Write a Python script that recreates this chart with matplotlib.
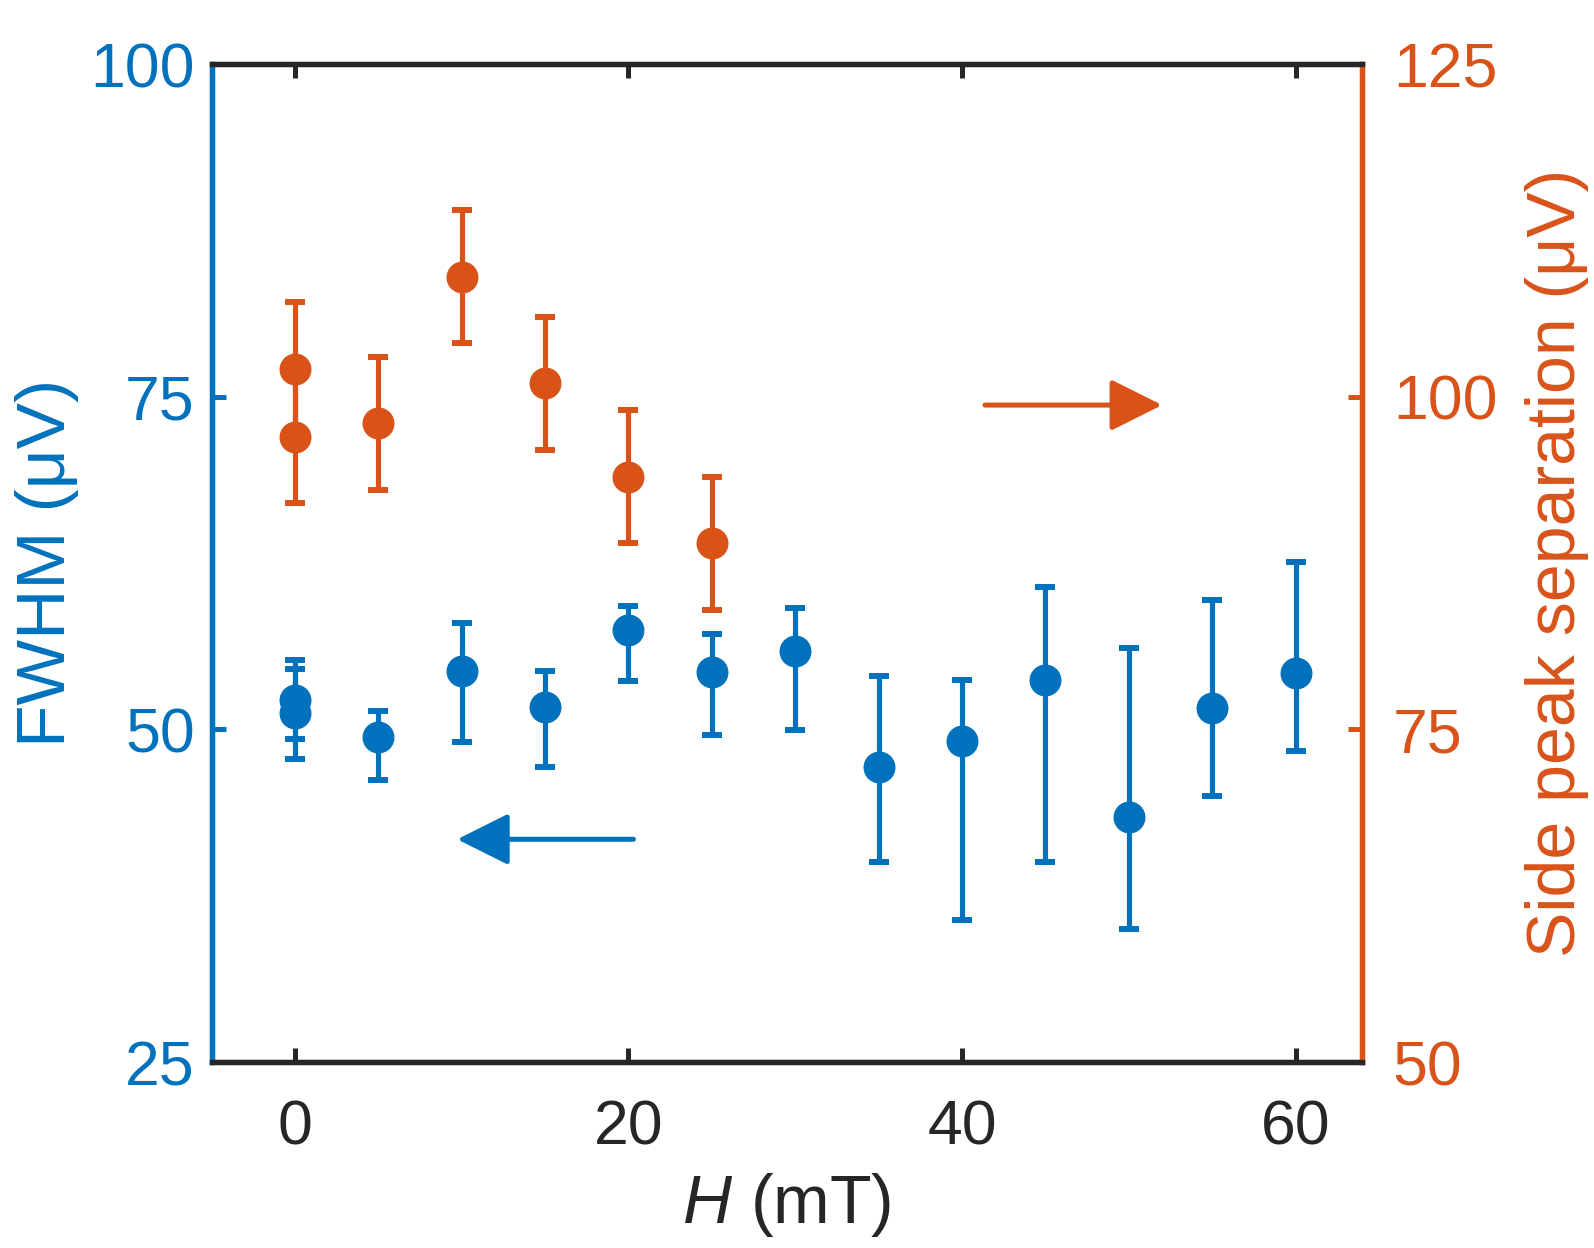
import matplotlib
matplotlib.use("Agg")
import matplotlib.pyplot as plt

plt.rcParams['font.family'] = ['Liberation Sans', 'DejaVu Sans']
plt.rcParams['mathtext.fontset'] = 'custom'
plt.rcParams['mathtext.it'] = 'Liberation Sans:italic'
plt.rcParams['mathtext.rm'] = 'Liberation Sans'

blue = '#0072BD'
orange = '#D95319'
dark = '#262626'

# FWHM (left axis)
fwhm_h = [0, 0, 5, 10, 15, 20, 25, 30, 35, 40, 45, 50, 55, 60]
fwhm = [52.2, 51.2, 49.4, 54.4, 51.7, 57.5, 54.3, 55.9, 47.2, 49.1, 53.7, 43.4, 51.6, 54.2]
fwhm_hi = [55.25, 54.5, 51.4, 58.0, 54.4, 59.3, 57.2, 59.1, 54.0, 53.7, 60.7, 56.1, 59.7, 62.6]
fwhm_lo = [49.25, 47.8, 46.2, 49.05, 47.2, 53.6, 49.6, 49.95, 40.0, 35.7, 40.0, 35.0, 45.0, 48.4]

# side peak separation (right axis)
sep_h = [0, 0, 5, 10, 15, 20, 25]
sep = [102.1, 97.0, 98.0, 109.0, 101.0, 94.0, 89.0]
sep_err = [5, 5, 5, 5, 5, 5, 5]

xticks = [0, 20, 40, 60]
lticks = [25, 50, 75, 100]
rticks = [50, 75, 100, 125]

fig = plt.figure(figsize=(15.94, 12.48), dpi=100)
ax = fig.add_axes([0.1327, 0.149, 0.8546 - 0.1327, 0.9487 - 0.149])
ax2 = ax.twinx()

lo = [v - l for v, l in zip(fwhm, fwhm_lo)]
hi = [h - v for v, h in zip(fwhm, fwhm_hi)]
ax.errorbar(fwhm_h, fwhm, yerr=[lo, hi], fmt='o', color=blue, ms=22,
            elinewidth=3.7, capsize=7, capthick=4.3, clip_on=False)
ax2.errorbar(sep_h, sep, yerr=sep_err, fmt='o', color=orange, ms=22,
             elinewidth=3.7, capsize=7, capthick=4.3, clip_on=False)

ax.set_xlim(-5, 64)
ax.set_ylim(25, 100)
ax2.set_ylim(50, 125)
ax.set_xticks(xticks)
ax.set_yticks(lticks)
ax2.set_yticks(rticks)

# arrows
ax.annotate('', xy=(9.73, 41.74), xytext=(20.3, 41.74),
            arrowprops=dict(arrowstyle='-|>,head_length=32,head_width=16',
                            mutation_scale=1, color=blue, lw=3.6,
                            shrinkA=0, shrinkB=0))
ax2.annotate('', xy=(52.0, 99.37), xytext=(41.38, 99.37),
             arrowprops=dict(arrowstyle='-|>,head_length=32,head_width=16',
                             mutation_scale=1, color=orange, lw=3.6,
                             shrinkA=0, shrinkB=0))

for a in (ax, ax2):
    for s in a.spines.values():
        s.set_linewidth(3.8)
    a.spines['top'].set_color(dark)
    a.spines['bottom'].set_color(dark)
    a.spines['left'].set_color(blue)
    a.spines['right'].set_color(orange)

ax.tick_params(axis='x', direction='in', length=10, width=3.6, colors=dark,
               labelsize=45, pad=26, top=True)
ax.tick_params(axis='y', direction='in', length=10, width=3.6, colors=blue,
               labelsize=45, pad=12)
ax2.tick_params(axis='y', direction='in', length=10, width=3.6, colors=orange,
                labelsize=45, pad=22)

ax.set_xlabel(r'$\it{H}$ (mT)', fontsize=49, color=dark, labelpad=10)
ax.set_ylabel('FWHM (μV)', fontsize=50, color=blue, labelpad=8)
ax2.set_ylabel('Side peak separation (μV)', fontsize=49, color=orange,
               rotation=90, labelpad=20)

fig.savefig('out.png', dpi=100)
